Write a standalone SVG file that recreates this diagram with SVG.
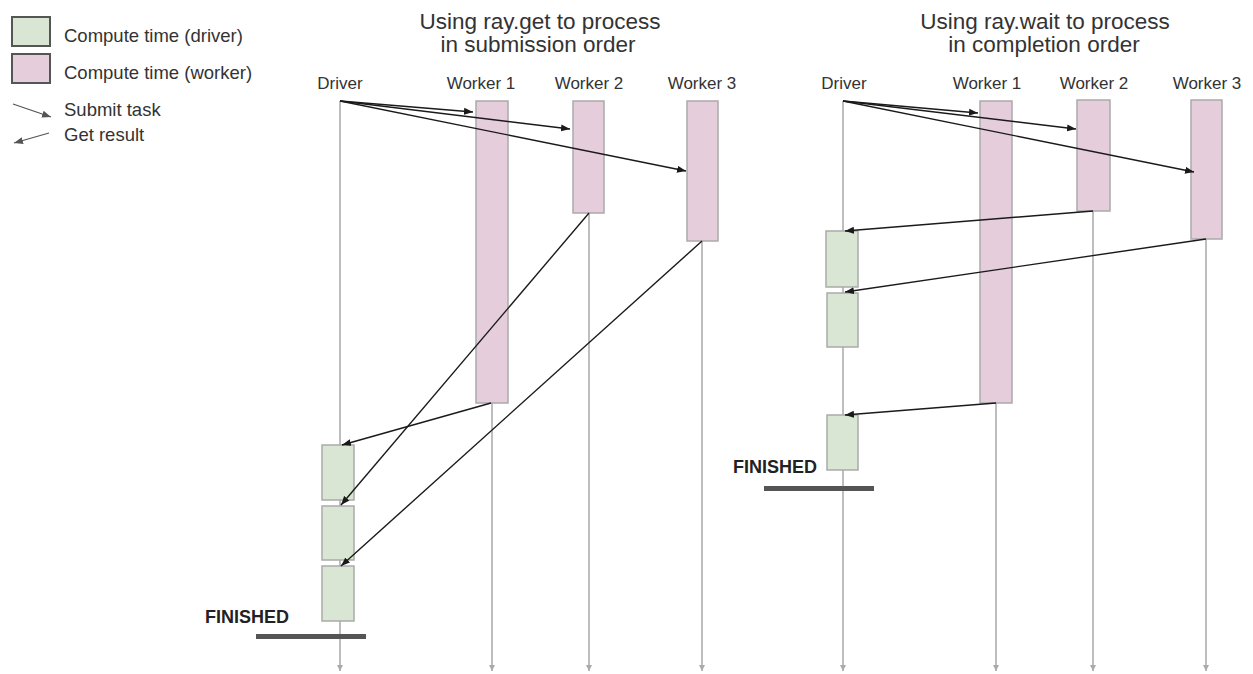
<svg xmlns="http://www.w3.org/2000/svg" width="1253" height="674" viewBox="0 0 1253 674">
  <defs>
    <marker id="head" markerUnits="userSpaceOnUse" markerWidth="10" markerHeight="8" refX="9" refY="4" orient="auto">
      <path d="M0,0.5 L9,4 L0,7.5 z" fill="#1a1a1a"/>
    </marker>
    <marker id="headGray" markerUnits="userSpaceOnUse" markerWidth="10" markerHeight="8" refX="9" refY="4" orient="auto">
      <path d="M0,0.5 L9,4 L0,7.5 z" fill="#555"/>
    </marker>
    <marker id="lifeEnd" markerUnits="userSpaceOnUse" markerWidth="8" markerHeight="6" refX="6" refY="3" orient="auto">
      <path d="M0,0 L6,3 L0,6 z" fill="#aaa"/>
    </marker>
  </defs>
  <style>
    text { font-family: "Liberation Sans", Arial, sans-serif; fill: #333; }
    .title { font-size: 22.5px; text-anchor: middle; }
    .label { font-size: 17px; text-anchor: middle; }
    .legend { font-size: 18.5px; }
    .finished { font-size: 18px; font-weight: bold; fill: #222; }
    .life { stroke: #a8a8a8; stroke-width: 1.5; fill: none; marker-end: url(#lifeEnd); }
    .worker { fill: #e5cddb; stroke: #aaa; stroke-width: 1.5; }
    .driver { fill: #d8e6d3; stroke: #aaa; stroke-width: 1.5; }
    .msg { stroke: #1a1a1a; stroke-width: 1.4; fill: none; marker-end: url(#head); }
    .bar { fill: #555; }
  </style>
  <rect width="1253" height="674" fill="#fff"/>

  <!-- Legend -->
  <g id="legend">
    <rect x="12" y="17" width="38" height="29" fill="#d8e6d3" stroke="#555" stroke-width="2"/>
    <text class="legend" x="64" y="42">Compute time (driver)</text>
    <rect x="12" y="54" width="38" height="29" fill="#e5cddb" stroke="#555" stroke-width="2"/>
    <text class="legend" x="64" y="79">Compute time (worker)</text>
    <line x1="13" y1="104" x2="51" y2="117" stroke="#555" stroke-width="1.3" marker-end="url(#headGray)"/>
    <text class="legend" x="64" y="116">Submit task</text>
    <line x1="49" y1="133" x2="14" y2="143" stroke="#555" stroke-width="1.3" marker-end="url(#headGray)"/>
    <text class="legend" x="64" y="141">Get result</text>
  </g>

  <!-- Left panel: ray.get -->
  <g id="left-title">
    <text class="title" x="540" y="29">Using ray.get to process</text>
    <text class="title" x="538" y="52">in submission order</text>
  </g>
  <g id="left-lifelines">
    <line class="life" x1="340" y1="101" x2="340" y2="671"/>
    <line class="life" x1="492" y1="101" x2="492" y2="671"/>
    <line class="life" x1="589" y1="101" x2="589" y2="671"/>
    <line class="life" x1="702" y1="101" x2="702" y2="671"/>
  </g>
  <g id="left-driver">
    <text class="label" x="340" y="89">Driver</text>
    <rect class="driver" x="322" y="445" width="32" height="55"/>
    <rect class="driver" x="322" y="506" width="32" height="54"/>
    <rect class="driver" x="322" y="566" width="32" height="55"/>
    <text class="finished" x="205" y="623">FINISHED</text>
    <rect class="bar" x="256" y="634" width="110" height="5"/>
  </g>
  <g id="left-worker1">
    <text class="label" x="481" y="89">Worker 1</text>
    <rect class="worker" x="476" y="101" width="32" height="302"/>
  </g>
  <g id="left-worker2">
    <text class="label" x="589" y="89">Worker 2</text>
    <rect class="worker" x="573" y="101" width="31" height="112"/>
  </g>
  <g id="left-worker3">
    <text class="label" x="702" y="89">Worker 3</text>
    <rect class="worker" x="687" y="101" width="31" height="140"/>
  </g>

  <!-- Right panel: ray.wait -->
  <g id="right-title">
    <text class="title" x="1045" y="29">Using ray.wait to process</text>
    <text class="title" x="1044" y="52">in completion order</text>
  </g>
  <g id="right-lifelines">
    <line class="life" x1="843" y1="101" x2="843" y2="671"/>
    <line class="life" x1="996" y1="101" x2="996" y2="671"/>
    <line class="life" x1="1093" y1="101" x2="1093" y2="671"/>
    <line class="life" x1="1206" y1="101" x2="1206" y2="671"/>
  </g>
  <g id="right-driver">
    <text class="label" x="844" y="89">Driver</text>
    <rect class="driver" x="826" y="231" width="32" height="56"/>
    <rect class="driver" x="827" y="293" width="31" height="54"/>
    <rect class="driver" x="827" y="415" width="31" height="55"/>
    <text class="finished" x="733" y="473">FINISHED</text>
    <rect class="bar" x="764" y="486" width="110" height="5"/>
  </g>
  <g id="right-worker1">
    <text class="label" x="987" y="89">Worker 1</text>
    <rect class="worker" x="980" y="101" width="32" height="302"/>
  </g>
  <g id="right-worker2">
    <text class="label" x="1094" y="89">Worker 2</text>
    <rect class="worker" x="1077" y="100" width="33" height="111"/>
  </g>
  <g id="right-worker3">
    <text class="label" x="1207" y="89">Worker 3</text>
    <rect class="worker" x="1191" y="100" width="31" height="139"/>
  </g>

  <!-- Connectors -->
  <g id="connectors">
    <!-- left: submit -->
    <line class="msg" x1="340" y1="101" x2="473" y2="112"/>
    <line class="msg" x1="340" y1="101" x2="570" y2="129"/>
    <line class="msg" x1="340" y1="101" x2="686" y2="171"/>
    <!-- left: get results in submission order -->
    <line class="msg" x1="491" y1="403" x2="342" y2="445"/>
    <line class="msg" x1="589" y1="213" x2="341" y2="505"/>
    <line class="msg" x1="702" y1="241" x2="341" y2="566"/>
    <!-- right: submit -->
    <line class="msg" x1="843" y1="101" x2="978" y2="113"/>
    <line class="msg" x1="843" y1="101" x2="1076" y2="129"/>
    <line class="msg" x1="843" y1="101" x2="1194" y2="172"/>
    <!-- right: get results in completion order -->
    <line class="msg" x1="1093" y1="211" x2="845" y2="231"/>
    <line class="msg" x1="1206" y1="239" x2="845" y2="292"/>
    <line class="msg" x1="996" y1="403" x2="845" y2="415"/>
  </g>
</svg>
